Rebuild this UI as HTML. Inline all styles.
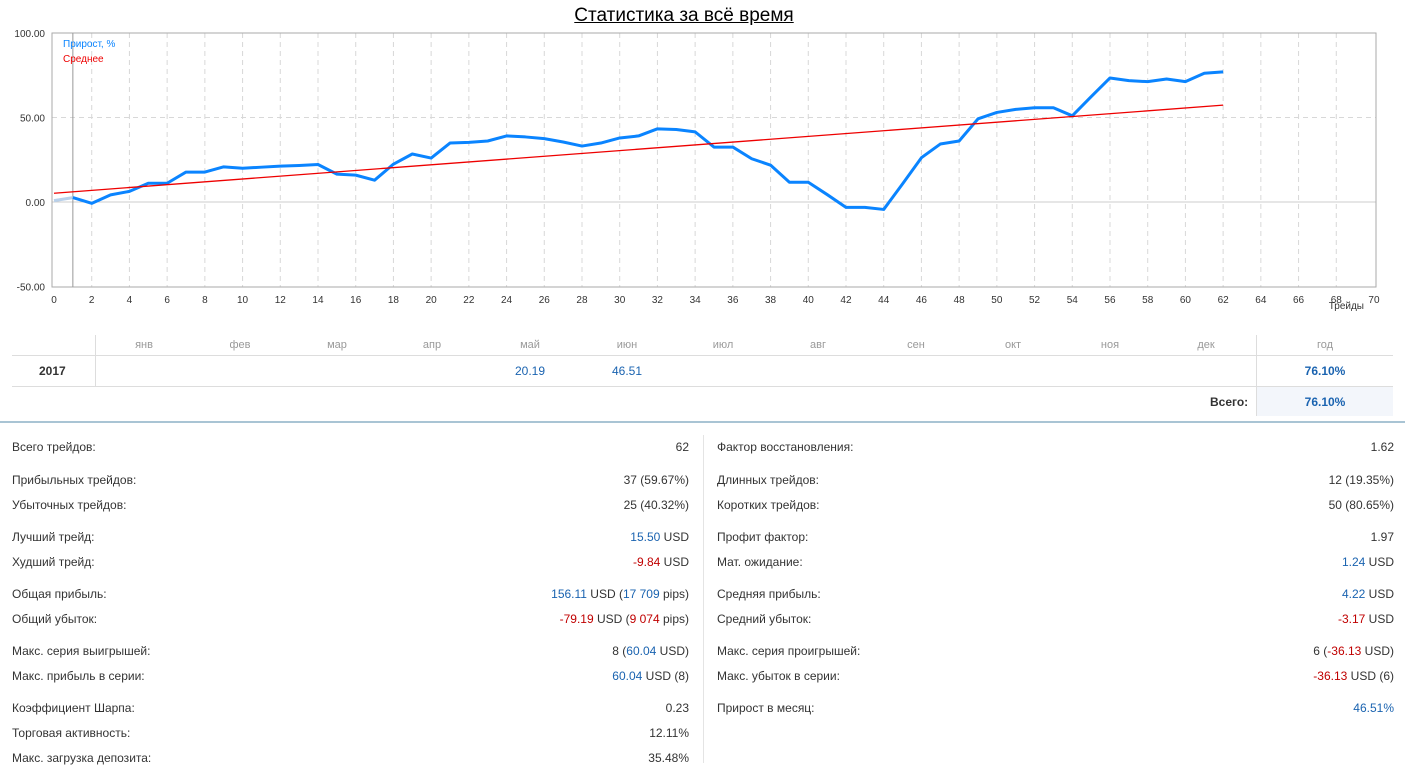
<!DOCTYPE html>
<html><head><meta charset="utf-8"><style>
body{margin:0;width:1405px;height:763px;overflow:hidden;background:#fff;font-family:"Liberation Sans",sans-serif;position:relative;color:#333}
.t{position:absolute;font-size:12px;white-space:nowrap;line-height:14px}
.r{text-align:right}
.b{color:#1a63b0}.rd{color:#c00000}
.m{position:absolute;font-size:11px;color:#999;transform:translateX(-50%);top:339px}
</style></head><body>
<div style="position:absolute;left:0;width:1368px;text-align:center;top:5px;font-size:19px;color:#000;text-decoration:underline">Статистика за всё время</div>
<svg id="ch" width="1405" height="320" style="position:absolute;left:0;top:0" font-family="Liberation Sans, sans-serif"></svg>
<script>
const trades=[0,1,2,3,4,5,6,7,8,9,10,11,12,13,14,15,16,17,18,19,20,21,22,23,24,25,26,27,28,29,30,31,32,33,34,35,36,37,38,39,40,41,42,43,44,45,46,47,48,49,50,51,52,53,54,55,56,57,58,59,60,61,62];
const growth=[0.8,2.6,-0.8,4.2,6.3,11.1,11.1,17.7,17.7,20.8,20,20.6,21.2,21.6,22.2,16.5,15.9,12.9,22.4,28.4,26,34.9,35.3,36.1,39.1,38.5,37.5,35.5,33.1,34.9,37.9,39.1,43.3,42.9,41.5,32.5,32.5,25.6,21.8,11.7,11.7,4.4,-3.2,-3.2,-4.4,10.7,26.2,34.3,36.1,49.2,53,54.8,55.8,55.8,51,62.3,73.4,71.8,71.2,72.8,71.2,76.2,77];
const avgX=[0,62];
const avgY=[5.2,57.3];
const xTicks=[0,2,4,6,8,10,12,14,16,18,20,22,24,26,28,30,32,34,36,38,40,42,44,46,48,50,52,54,56,58,60,62,64,66,68,70];
const yTicks=[100,50,0,-50];
const yLabels=["100.00","50.00","0.00","-50.00"];
const svg=document.getElementById('ch');const NS='http://www.w3.org/2000/svg';
const X=v=>54+v*18.857;const Y=v=>202-v*1.69;
function mk(t,a){const e=document.createElementNS(NS,t);for(const k in a)e.setAttribute(k,a[k]);svg.appendChild(e);return e;}
xTicks.forEach(v=>{if(v>0&&v<70){const l=mk('line',{x1:X(v),x2:X(v),y1:33,y2:287,stroke:'#d8d8d8','stroke-dasharray':'5,4'});

}
const t=mk('text',{x:X(v),y:303,'font-size':10,'text-anchor':'middle',fill:'#333'});t.textContent=v;

});
yTicks.forEach((v,i)=>{if(v==50){const l=mk('line',{x1:52,x2:1376,y1:Y(v),y2:Y(v),stroke:'#d8d8d8','stroke-dasharray':'5,4'});

}
if(v==0){const l=mk('line',{x1:52,x2:1376,y1:Y(v),y2:Y(v),stroke:'#ccc'});

}
const t=mk('text',{x:45,y:Y(v)+4,'font-size':10,'text-anchor':'end',fill:'#333'});t.textContent=yLabels[i];

});
const box=mk('rect',{x:52,y:33,width:1324,height:254,fill:'none',stroke:'#aaa'});


const cur=mk('line',{x1:X(1),x2:X(1),y1:33,y2:287,stroke:'#999'});


const seg=mk('line',{x1:X(trades[0]),y1:Y(growth[0]),x2:X(trades[1]),y2:Y(growth[1]),stroke:'#b8d0ea','stroke-width':3});


const pl=mk('polyline',{points:trades.slice(1).map((t,i)=>X(t)+','+Y(growth[i+1])).join(' '),fill:'none',stroke:'#0a84ff','stroke-width':3,'stroke-linejoin':'round'});


const av=mk('line',{x1:X(avgX[0]),y1:Y(avgY[0]),x2:X(avgX[1]),y2:Y(avgY[1]),stroke:'#e00','stroke-width':1.3});


const l1=mk('text',{x:63,y:47,'font-size':10,fill:'#0a84ff'});l1.textContent='Прирост, %';


const l2=mk('text',{x:63,y:62,'font-size':10,fill:'#e00'});l2.textContent='Среднее';


const xt=mk('text',{x:1364,y:309,'font-size':10,'text-anchor':'end',fill:'#333'});xt.textContent='Трейды';


</script>
<div>
<div style="position:absolute;left:95px;top:335px;width:1px;height:52px;background:#ddd"></div>
<div style="position:absolute;left:1256px;top:335px;width:1px;height:81px;background:#ddd"></div>
<div style="position:absolute;left:1257px;top:387px;width:136px;height:29px;background:#f3f6fb"></div>
<div style="position:absolute;left:12px;top:355px;width:1381px;height:1px;background:#ddd"></div>
<div style="position:absolute;left:12px;top:386px;width:1381px;height:1px;background:#ddd"></div>
<div class="m" style="left:144px">янв</div><div class="m" style="left:240px">фев</div><div class="m" style="left:337px">мар</div><div class="m" style="left:432px">апр</div><div class="m" style="left:530px">май</div><div class="m" style="left:627px">июн</div><div class="m" style="left:723px">июл</div><div class="m" style="left:818px">авг</div><div class="m" style="left:916px">сен</div><div class="m" style="left:1013px">окт</div><div class="m" style="left:1110px">ноя</div><div class="m" style="left:1206px">дек</div><div class="m" style="left:1325px">год</div>
<div class="t" style="left:39px;top:364px;font-weight:bold">2017</div>
<div class="t b" style="left:530px;top:364px;transform:translateX(-50%)">20.19</div>
<div class="t b" style="left:627px;top:364px;transform:translateX(-50%)">46.51</div>
<div class="t b" style="left:1325px;top:364px;transform:translateX(-50%);font-weight:bold">76.10%</div>
<div class="t" style="left:1210px;top:395px;font-weight:bold">Всего:</div>
<div class="t b" style="left:1325px;top:395px;transform:translateX(-50%);font-weight:bold">76.10%</div>
</div>
<div style="position:absolute;left:0;top:421px;width:1405px;height:2px;background:#a9c4d4"></div>
<div style="position:absolute;left:703px;top:435px;width:1px;height:328px;background:#e4e4e4"></div>
<div id="stats">
<div class="t" style="left:12px;top:440px">Всего трейдов:</div><div class="t r" style="right:716px;top:440px">62</div>
<div class="t" style="left:12px;top:473px">Прибыльных трейдов:</div><div class="t r" style="right:716px;top:473px">37 (59.67%)</div>
<div class="t" style="left:12px;top:498px">Убыточных трейдов:</div><div class="t r" style="right:716px;top:498px">25 (40.32%)</div>
<div class="t" style="left:12px;top:530px">Лучший трейд:</div><div class="t r" style="right:716px;top:530px"><span class="b">15.50</span> USD</div>
<div class="t" style="left:12px;top:555px">Худший трейд:</div><div class="t r" style="right:716px;top:555px"><span class="rd">-9.84</span> USD</div>
<div class="t" style="left:12px;top:587px">Общая прибыль:</div><div class="t r" style="right:716px;top:587px"><span class="b">156.11</span> USD (<span class="b">17 709</span> pips)</div>
<div class="t" style="left:12px;top:612px">Общий убыток:</div><div class="t r" style="right:716px;top:612px"><span class="rd">-79.19</span> USD (<span class="rd">9 074</span> pips)</div>
<div class="t" style="left:12px;top:644px">Макс. серия выигрышей:</div><div class="t r" style="right:716px;top:644px">8 (<span class="b">60.04</span> USD)</div>
<div class="t" style="left:12px;top:669px">Макс. прибыль в серии:</div><div class="t r" style="right:716px;top:669px"><span class="b">60.04</span> USD (8)</div>
<div class="t" style="left:12px;top:701px">Коэффициент Шарпа:</div><div class="t r" style="right:716px;top:701px">0.23</div>
<div class="t" style="left:12px;top:726px">Торговая активность:</div><div class="t r" style="right:716px;top:726px">12.11%</div>
<div class="t" style="left:12px;top:751px">Макс. загрузка депозита:</div><div class="t r" style="right:716px;top:751px">35.48%</div>
<div class="t" style="left:717px;top:440px">Фактор восстановления:</div><div class="t r" style="right:11px;top:440px">1.62</div>
<div class="t" style="left:717px;top:473px">Длинных трейдов:</div><div class="t r" style="right:11px;top:473px">12 (19.35%)</div>
<div class="t" style="left:717px;top:498px">Коротких трейдов:</div><div class="t r" style="right:11px;top:498px">50 (80.65%)</div>
<div class="t" style="left:717px;top:530px">Профит фактор:</div><div class="t r" style="right:11px;top:530px">1.97</div>
<div class="t" style="left:717px;top:555px">Мат. ожидание:</div><div class="t r" style="right:11px;top:555px"><span class="b">1.24</span> USD</div>
<div class="t" style="left:717px;top:587px">Средняя прибыль:</div><div class="t r" style="right:11px;top:587px"><span class="b">4.22</span> USD</div>
<div class="t" style="left:717px;top:612px">Средний убыток:</div><div class="t r" style="right:11px;top:612px"><span class="rd">-3.17</span> USD</div>
<div class="t" style="left:717px;top:644px">Макс. серия проигрышей:</div><div class="t r" style="right:11px;top:644px">6 (<span class="rd">-36.13</span> USD)</div>
<div class="t" style="left:717px;top:669px">Макс. убыток в серии:</div><div class="t r" style="right:11px;top:669px"><span class="rd">-36.13</span> USD (6)</div>
<div class="t" style="left:717px;top:701px">Прирост в месяц:</div><div class="t r b" style="right:11px;top:701px">46.51%</div>
</div>
</body></html>
